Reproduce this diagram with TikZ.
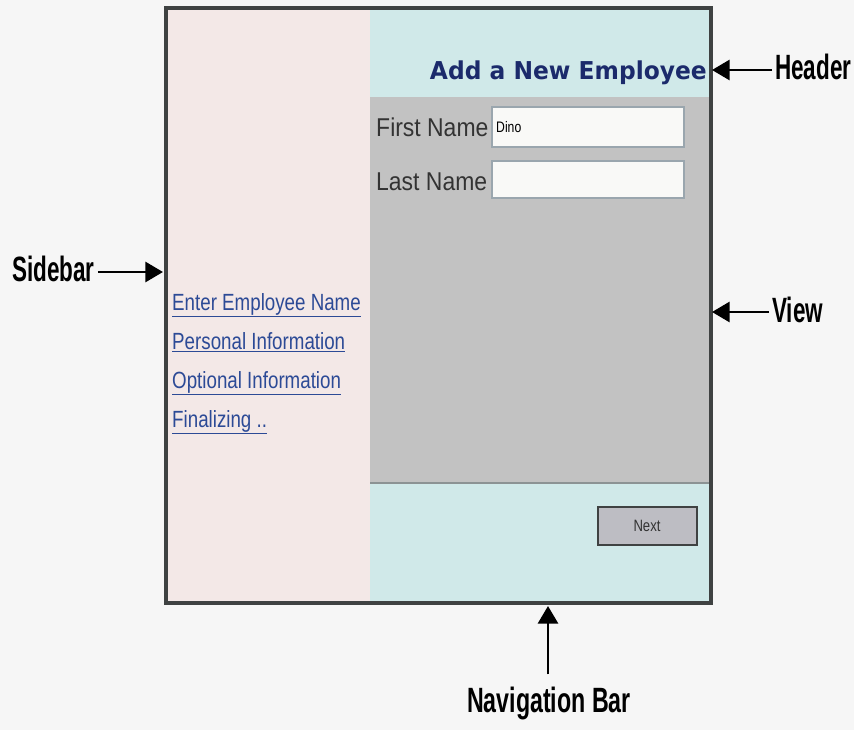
\documentclass[tikz,border=0pt]{standalone}
\usepackage{fontspec}
\setmainfont{Liberation Sans}
\newfontfamily\titlefont{DejaVu Sans}
\usetikzlibrary{arrows.meta}

\definecolor{pagebg}{HTML}{F6F6F6}
\definecolor{sidefill}{HTML}{F3E8E7}
\definecolor{barfill}{HTML}{D0E9E9}
\definecolor{viewfill}{HTML}{C2C2C2}
\definecolor{framecol}{HTML}{3F4242}
\definecolor{paneline}{HTML}{8C9394}
\definecolor{titleblue}{HTML}{1B2A6B}
\definecolor{linkblue}{HTML}{2C4A96}
\definecolor{fieldtext}{HTML}{333333}
\definecolor{entryfill}{HTML}{F9F9F7}
\definecolor{entryline}{HTML}{9AA6AE}
\definecolor{buttonfill}{HTML}{BDBDC3}

\newcommand{\narrow}[2]{\scalebox{#1}[1]{#2}}

\begin{document}
\begin{tikzpicture}[x=0.03cm,y=-0.03cm,
  callout/.style={font=\fontsize{30}{30}\selectfont\bfseries, inner sep=0pt},
  pointer/.style={line width=2.5pt, -{Triangle[length=15pt,width=17pt]}},
  link/.style={font=\fontsize{20}{20}\selectfont, text=linkblue, anchor=base west, inner sep=0pt},
  field/.style={font=\fontsize{22}{22}\selectfont, text=fieldtext, anchor=base west, inner sep=0pt},
  entry/.style={fill=entryfill, draw=entryline, line width=1pt}]

\useasboundingbox (0,0) rectangle (854,730);
\fill[pagebg] (0,0) rectangle (854,730);

% the page panes
\fill[sidefill] (166,8) rectangle (370,603);
\fill[barfill] (370,8) rectangle (711,97);
\fill[viewfill] (370,97) rectangle (711,483);
\fill[barfill] (370,483) rectangle (711,603);
\draw[line width=2.5pt, paneline] (370,483) -- (711,483);
\draw[line width=2.6pt, framecol] (166,8) rectangle (711,603);

% header
\node[font=\titlefont\fontsize{21}{21}\selectfont\bfseries, text=titleblue,
  anchor=base east, inner sep=0pt] (title) at (707,80) {\narrow{0.95}{Add a New Employee}};

% view
\node[field] (firstlbl) at (376,137) {\narrow{0.89}{First Name}};
\node[field] (lastlbl) at (376,191) {\narrow{0.89}{Last Name}};
\draw[entry] (492,107) rectangle (684,147);
\draw[entry] (492,161) rectangle (684,198);
\node[font=\fontsize{13}{13}\selectfont, anchor=base west, inner sep=0pt] (dino) at (496,133) {\narrow{0.8}{Dino}};

% sidebar links
\node[link] (link1) at (172,310) {\narrow{0.8}{\underline{Enter Employee Name}}};
\node[link] (link2) at (172,349) {\narrow{0.8}{\underline{Personal Information}}};
\node[link] (link3) at (172,388) {\narrow{0.8}{\underline{Optional Information}}};
\node[link] (link4) at (172,427) {\narrow{0.8}{\underline{Finalizing ..}}};

% navigation bar
\draw[fill=buttonfill, draw=framecol, line width=2.2pt] (598,507) rectangle (697,545);
\node[font=\fontsize{14}{14}\selectfont, text=fieldtext, inner sep=0pt] (next) at (647,526) {\narrow{0.8}{Next}};

% callouts
\coordinate (sidebar) at (163,272);
\coordinate (header) at (712,70);
\coordinate (view) at (712,312);
\coordinate (navbar) at (548,606);

\node[callout, anchor=west] (sidelbl) at (12,269) {\narrow{0.64}{Sidebar}};
\node[callout, anchor=west] (headlbl) at (775,67) {\narrow{0.64}{Header}};
\node[callout, anchor=west] (viewlbl) at (772,310) {\narrow{0.64}{View}};
\node[callout] (navlbl) at (549,703) {\narrow{0.66}{Navigation Bar}};

\draw[pointer] (sidelbl.east |- sidebar) ++(3,0) -- (sidebar);
\draw[pointer] (headlbl.west |- header) ++(-3,0) -- (header);
\draw[pointer] (viewlbl.west |- view) ++(-3,0) -- (view);
\draw[pointer] (navlbl.north -| navbar) ++(0,-12) -- (navbar);
\end{tikzpicture}
\end{document}
